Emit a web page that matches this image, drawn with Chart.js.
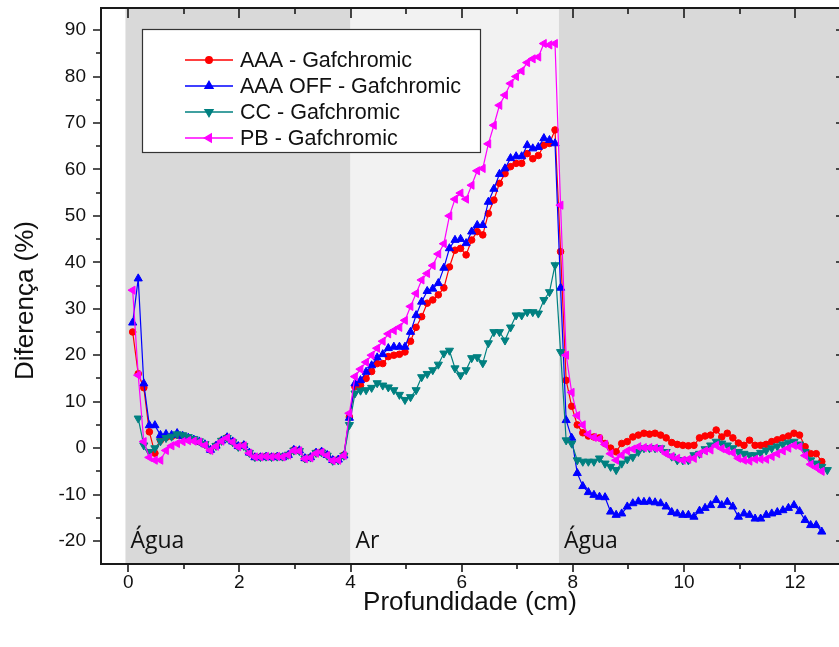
<!DOCTYPE html>
<html>
<head>
<meta charset="utf-8">
<script src="https://cdn.jsdelivr.net/npm/chart.js@4.4.1/dist/chart.umd.min.js"></script>
<style>
  html, body { margin: 0; padding: 0; background: #fff; }
  #wrap { width: 839px; height: 647px; }
</style>
</head>
<body>
<div id="wrap"><canvas id="chart" width="839" height="647"></canvas></div>
<script>
// depth (cm)
const depth = [
  0.08, 0.18, 0.28, 0.38, 0.48, 0.58, 0.68, 0.78, 0.88, 0.98,
  1.08, 1.18, 1.28, 1.38, 1.48, 1.58, 1.68, 1.78, 1.88, 1.98,
  2.08, 2.18, 2.28, 2.38, 2.48, 2.58, 2.68, 2.78, 2.88, 2.98,
  3.08, 3.18, 3.28, 3.38, 3.48, 3.58, 3.68, 3.78, 3.88, 3.98,
  4.08, 4.18, 4.28, 4.38, 4.48, 4.58, 4.68, 4.78, 4.88, 4.98,
  5.08, 5.18, 5.28, 5.38, 5.48, 5.58, 5.68, 5.78, 5.88, 5.98,
  6.08, 6.18, 6.28, 6.38, 6.48, 6.58, 6.68, 6.78, 6.88, 6.98,
  7.08, 7.18, 7.28, 7.38, 7.48, 7.58, 7.68, 7.78, 7.88, 7.98,
  8.08, 8.18, 8.28, 8.38, 8.48, 8.58, 8.68, 8.78, 8.88, 8.98,
  9.08, 9.18, 9.28, 9.38, 9.48, 9.58, 9.68, 9.78, 9.88, 9.98,
  10.08, 10.18, 10.28, 10.38, 10.48, 10.58, 10.68, 10.78, 10.88, 10.98,
  11.08, 11.18, 11.28, 11.38, 11.48, 11.58, 11.68, 11.78, 11.88, 11.98,
  12.08, 12.18, 12.28, 12.38, 12.48, 12.58
];

// diferença (%) per calculation algorithm
const aaa = [
  25, 16, 13, 3.5, -1.1, 1.7, 2.3, 2.5, 2.8, 2.6,
  2.2, 1.8, 1.4, 0.8, -0.4, 0.5, 1.6, 2.3, 1.4, 0.4,
  0.6, -1.0, -1.9, -1.9, -1.8, -1.9, -1.8, -1.9, -1.5, -0.4,
  -0.5, -2.2, -2.0, -1.0, -0.8, -1.5, -2.6, -2.5, -1.5, 6.7,
  13.2, 13.5, 15, 16.5, 18.2, 18.2, 19.7, 20, 20.2, 20.7,
  23, 26, 28.3, 31.2, 31.9, 33, 34.5, 39, 42.6, 43,
  41.6, 44.8, 46.6, 45.9, 50.5, 53.4, 57, 59.1, 60.6, 61.3,
  61.3, 63.4, 62.3, 63, 65.2, 65.6, 68.5, 42.3, 14.6, 9,
  5, 3.3, 2.6, 2.4, 2.2, 1.0, 0, -0.8, 1.0, 1.4,
  2.4, 2.8, 3.2, 3.0, 3.2, 2.8, 2.2, 1.2, 0.8, 0.6,
  0.5, 0.6, 2.2, 2.6, 2.8, 3.9, 2.4, 3.2, 2.2, 1.1,
  0.6, 1.7, 0.6, 0.6, 0.8, 1.4, 1.8, 2.2, 2.6, 3.2,
  2.8, 0.3, -1.2, -1.2, -2.9, null
];
const aaaOff = [
  27, 36.5, 13.9, 4.9, 4.9, 2.8, 3.0, 2.8, 3.2, 2.6,
  2.2, 1.8, 1.4, 0.8, -0.4, 0.5, 1.6, 2.3, 1.4, 0.4,
  0.6, -1.0, -2.0, -2.0, -1.9, -2.0, -1.9, -2.0, -1.5, -0.4,
  -0.5, -2.2, -2.0, -1.0, -0.8, -1.5, -2.6, -2.5, -1.6, 6.5,
  13.9, 14.6, 16.4, 17.8, 19.5, 20.2, 21.5, 21.8, 21.8, 21.8,
  25, 28.6, 31.5, 33.8, 34.3, 35.5, 38.8, 43, 44.8, 45,
  44.1, 46.6, 48, 48, 53, 55.8, 59, 60.2, 62.4, 62.8,
  62.8, 65.2, 64.5, 64.8, 66.7, 66.3, 65.6, 34.5, 6.0, 2.2,
  -5.4, -8.2, -9.5, -10.1, -10.5, -10.6, -13.7, -14.4, -14.1, -12.6,
  -11.9, -11.5, -11.6, -11.5, -11.7, -11.9, -12.6, -13.8, -14.1, -14.4,
  -14.4, -14.8, -13.5, -12.9, -12.3, -11.2, -12.3, -11.6, -12.6, -14.8,
  -14.1, -14.4, -15.2, -15.2, -14.4, -14.1, -13.8, -13.4, -12.9, -12.3,
  -13.6, -15.5, -16.6, -16.6, -18, null
];
const cc = [
  null, 6.4, 0.6, -0.8, 0, 1.5, 2.2, 2.5, 3.0, 2.8,
  2.4, 2.0, 1.5, 0.9, -0.3, 0.5, 1.6, 2.2, 1.3, 0.3,
  0.5, -1.0, -1.9, -1.9, -1.8, -1.9, -1.8, -1.8, -1.4, -0.5,
  -0.6, -2.2, -2.0, -1.0, -0.9, -1.6, -2.7, -2.6, -1.6, 5,
  11.8, 12.4, 12.5, 13, 14, 13.5, 13.1, 12.5, 11.5, 10.4,
  11, 12.5, 15.3, 16, 16.8, 18, 20.4, 21, 17.2, 15.7,
  16.8, 19.4, 19.6, 18.3, 22.6, 25, 25, 23.2, 26, 28.6,
  28.6, 29.3, 29.3, 29, 31.9, 33.6, 39.4, 20.7, 1.7, 1.0,
  -2.6, -2.9, -2.9, -2.9, -2.2, -3.3, -4.0, -4.7, -3.3, -2.4,
  -1.9, -0.8, 0, 0, 0, 0, -0.8, -1.8, -2.6, -2.6,
  -2.6, -1.5, -1.2, -0.2, 0.6, 1.4, 1.0, 0.6, 0, -0.8,
  -1.2, -1.5, -1.5, -1.0, -0.5, 0, 0.4, 0.8, 1.2, 1.4,
  0.8, -0.8, -2.6, -3.3, -4.0, -4.7
];
const pb = [
  34, 15.7, 1.4, -2.0, -2.6, -2.6, -0.5, 0.5, 1.0, 1.4,
  1.6, 1.5, 1.3, 0.6, -0.5, 0.4, 1.5, 2.2, 1.3, 0.3,
  0.5, -1.1, -1.9, -1.9, -1.8, -1.9, -1.8, -1.9, -1.5, -0.5,
  -0.6, -2.3, -2.1, -1.1, -0.9, -1.6, -2.7, -2.6, -1.6, 7.5,
  15.4, 17, 18.5, 20, 21.5, 23, 24.6, 25.3, 26, 27.5,
  30.5, 33.3, 36.2, 37.6, 39.3, 41.8, 44, 50, 53.6, 54.9,
  53.6, 56.6, 59.7, 60.2, 65.5, 69.5, 73.8, 76, 78.5, 80,
  81.2, 83, 83.8, 84.2, 87.1, 86.8, 87.1, 52.3, 20, 12,
  7, 5, 3, 2.3, 2.0, 0.8, -1.2, -2.6, -1.5, -0.6,
  -0.2, 0.3, 0.1, 0.1, 0, -0.2, -1.2, -1.8, -2.2, -2.6,
  -2.4, -2.2, -1.2, -0.6, -0.4, 0.6, -0.1, -0.6, -1.0, -2.2,
  -2.6, -2.8, -2.4, -2.4, -2.4, -1.8, -1.2, -0.6, 0, 0.6,
  0.3, -1.6, -3.5, -4.2, -5.0, null
];

const seriesNames = ['AAA - Gafchromic', 'AAA OFF - Gafchromic', 'CC - Gafchromic', 'PB - Gafchromic'];

const xTicks = [0, 2, 4, 6, 8, 10, 12];
const xMinor = [1, 3, 5, 7, 9, 11];
const yTicks = [-20, -10, 0, 10, 20, 30, 40, 50, 60, 70, 80, 90];
const yMinor = [-15, -5, 5, 15, 25, 35, 45, 55, 65, 75, 85];

// media regions along the depth
const zoneStart = [-0.05, 4.0, 7.75];
const zoneEnd = [4.0, 7.75, 12.79];
const zoneNames = ['Água', 'Ar', 'Água'];

const tickFont = "'Liberation Sans Narrow', 'Liberation Sans', Arial, sans-serif";
const textFont = "'Liberation Sans', Arial, sans-serif";

function pts(values) {
  return depth.map((d, i) => ({ x: d, y: values[i] }));
}

const zonesPlugin = {
  id: 'zones',
  beforeDatasetsDraw(chart) {
    const { ctx, chartArea: a, scales: { x, y } } = chart;
    ctx.save();
    zoneStart.forEach((s, i) => {
      const x0 = x.getPixelForValue(s);
      const x1 = Math.min(x.getPixelForValue(zoneEnd[i]), a.right);
      ctx.fillStyle = zoneNames[i] === 'Ar' ? '#f2f2f2' : '#d9d9d9';
      ctx.fillRect(x0, a.top, x1 - x0, a.bottom - a.top);
      ctx.fillStyle = '#111';
      ctx.font = "23px 'Open Sans', sans-serif";
      ctx.textBaseline = 'middle';
      ctx.fillText(zoneNames[i], x0 + 5, y.getPixelForValue(-20));
    });
    ctx.restore();
  }
};

const framePlugin = {
  id: 'frame',
  afterDraw(chart) {
    const { ctx, chartArea: a, scales: { x, y } } = chart;
    ctx.save();
    ctx.strokeStyle = '#1a1a1a';
    ctx.lineWidth = 2;
    ctx.beginPath();
    ctx.moveTo(a.right, a.top);
    ctx.lineTo(a.left, a.top);
    ctx.lineTo(a.left, a.bottom);
    ctx.lineTo(a.right, a.bottom);
    ctx.stroke();
    ctx.lineWidth = 1.6;
    ctx.beginPath();
    xTicks.forEach(v => {
      const px = Math.round(x.getPixelForValue(v));
      ctx.moveTo(px, a.bottom); ctx.lineTo(px, a.bottom + 8);
      ctx.moveTo(px, a.top); ctx.lineTo(px, a.top + 10);
    });
    xMinor.forEach(v => {
      const px = Math.round(x.getPixelForValue(v));
      ctx.moveTo(px, a.bottom); ctx.lineTo(px, a.bottom + 5);
      ctx.moveTo(px, a.top); ctx.lineTo(px, a.top + 6);
    });
    yTicks.forEach(v => {
      const py = Math.round(y.getPixelForValue(v));
      ctx.moveTo(a.left, py); ctx.lineTo(a.left - 8, py);
      ctx.moveTo(a.right, py); ctx.lineTo(a.right - 3, py);
    });
    yMinor.forEach(v => {
      const py = Math.round(y.getPixelForValue(v));
      ctx.moveTo(a.left, py); ctx.lineTo(a.left - 5, py);
    });
    ctx.stroke();
    ctx.restore();
  }
};

const legendPlugin = {
  id: 'boxLegend',
  afterDraw(chart) {
    const { ctx } = chart;
    const bx = 142, by = 29, bw = 338, bh = 123;
    ctx.save();
    ctx.fillStyle = '#fff';
    ctx.fillRect(bx, by, bw, bh);
    ctx.strokeStyle = '#333';
    ctx.lineWidth = 1.2;
    ctx.strokeRect(bx + 0.5, by + 0.5, bw, bh);
    chart.data.datasets.forEach((ds, i) => {
      const ly = 60 + i * 26;
      ctx.strokeStyle = ds.borderColor;
      ctx.lineWidth = 1.3;
      ctx.beginPath();
      ctx.moveTo(185, ly); ctx.lineTo(233, ly);
      ctx.stroke();
      ctx.fillStyle = ds.backgroundColor;
      Chart.helpers.drawPoint(ctx, {
        pointStyle: ds.pointStyle, rotation: ds.rotation || 0,
        radius: ds.pointRadius, borderWidth: 1
      }, 209, ly);
      ctx.fillStyle = '#111';
      ctx.font = '21.5px ' + textFont;
      ctx.textBaseline = 'middle';
      ctx.fillText(seriesNames[i], 240, ly + 1);
    });
    ctx.restore();
  }
};

function series(i, values, color, style, rotation, radius, order) {
  return {
    label: seriesNames[i],
    data: pts(values),
    borderColor: color,
    backgroundColor: color,
    borderWidth: 1.2,
    pointStyle: style,
    rotation: rotation,
    pointRadius: radius,
    pointBorderWidth: 1,
    pointHoverRadius: radius,
    spanGaps: false,
    tension: 0,
    order: order
  };
}

new Chart(document.getElementById('chart'), {
  type: 'line',
  data: {
    datasets: [
      series(0, aaa, '#ff0000', 'circle', 0, 3.3, 4),
      series(1, aaaOff, '#0000ff', 'triangle', 0, 4.7, 3),
      series(2, cc, '#008080', 'triangle', 180, 4.7, 2),
      series(3, pb, '#ff00ff', 'triangle', 270, 4.7, 1)
    ]
  },
  options: {
    responsive: false,
    animation: false,
    layout: { autoPadding: false, padding: { top: 8, left: 0, right: 0, bottom: 0 } },
    plugins: { legend: { display: false }, tooltip: { enabled: false } },
    scales: {
      x: {
        type: 'linear',
        min: -0.49,
        max: 12.79,
        afterBuildTicks: s => { s.ticks = xTicks.map(v => ({ value: v })); },
        afterFit: s => { s.height = 83; s.paddingLeft = 0; s.paddingRight = 0; },
        grid: { display: false, drawTicks: false },
        border: { display: false },
        ticks: { padding: 7, color: '#111', font: { family: tickFont, size: 19 } },
        title: {
          display: true, text: 'Profundidade (cm)', color: '#111',
          font: { family: textFont, size: 26 }, padding: { top: 0, bottom: 29 }
        }
      },
      y: {
        type: 'linear',
        min: -24.95,
        max: 94.75,
        afterBuildTicks: s => { s.ticks = yTicks.map(v => ({ value: v })); },
        afterFit: s => { s.width = 101; s.paddingTop = 0; s.paddingBottom = 0; },
        grid: { display: false, drawTicks: false },
        border: { display: false },
        ticks: { padding: 15, color: '#111', font: { family: tickFont, size: 19 } },
        title: {
          display: true, text: 'Diferença (%)    ', color: '#111',
          font: { family: textFont, size: 26 }, padding: { top: 10, bottom: 0 }
        }
      }
    }
  },
  plugins: [zonesPlugin, framePlugin, legendPlugin]
});
</script>
</body>
</html>
